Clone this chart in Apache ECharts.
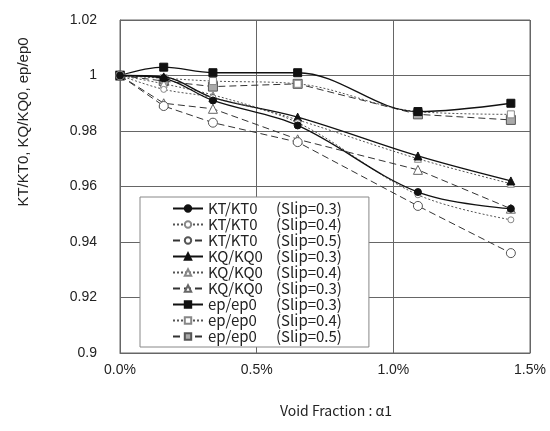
<!DOCTYPE html>
<html>
<head>
<meta charset="utf-8">
<script src="https://cdn.jsdelivr.net/npm/echarts@6/dist/echarts.min.js"></script>
<style>
  html, body { margin: 0; padding: 0; background: #fff; }
  #chart { width: 550px; height: 431px; }
</style>
</head>
<body>
<div id="chart"></div>
<script>
// void fraction (%)
var voidFrac = [0, 0.16, 0.34, 0.65, 1.09, 1.43];

var kt03 = [1, 0.999, 0.991, 0.982, 0.958, 0.952];
var kt04 = [1, 0.995, 0.992, 0.983, 0.957, 0.948];
var kt05 = [1, 0.989, 0.983, 0.976, 0.953, 0.936];
var kq03 = [1, 0.9995, 0.992, 0.985, 0.971, 0.962];
var kq04 = [1, 0.997, 0.993, 0.984, 0.970, 0.961];
var kq05 = [1, 0.990, 0.988, 0.977, 0.966, 0.952];
var ep03 = [1, 1.003, 1.001, 1.001, 0.987, 0.990];
var ep04 = [1, 0.999, 0.998, 0.997, 0.987, 0.986];
var ep05 = [1, 0.998, 0.996, 0.997, 0.986, 0.984];

// legend text as printed (6th entry really says Slip=0.3)
var legendNames = ['KT/KT0', 'KT/KT0', 'KT/KT0', 'KQ/KQ0', 'KQ/KQ0', 'KQ/KQ0', 'ep/ep0', 'ep/ep0', 'ep/ep0'];
var legendSlips = ['(Slip=0.3)', '(Slip=0.4)', '(Slip=0.5)', '(Slip=0.3)', '(Slip=0.4)', '(Slip=0.3)', '(Slip=0.3)', '(Slip=0.4)', '(Slip=0.5)'];
var seriesKeys = ['kt03', 'kt04', 'kt05', 'kq03', 'kq04', 'kq05', 'ep03', 'ep04', 'ep05'];

function pairs(ys) {
    var out = [];
    for (var i = 0; i < ys.length; i++) {
        out.push([voidFrac[i], ys[i]]);
    }
    return out;
}

var solid = { color: '#111', width: 1.3, type: 'solid' };
var dotted = { color: '#555', width: 1, type: [2, 2] };
var dashed = { color: '#333', width: 1, type: [7, 4] };

function mk(idx, ys, line, symbol, size, fill, border, smooth) {
    return {
        name: seriesKeys[idx],
        type: 'line',
        data: pairs(ys),
        smooth: smooth ? 0.35 : false,
        symbol: symbol,
        symbolSize: size,
        lineStyle: line,
        itemStyle: { color: fill, borderColor: border, borderWidth: 1 },
        z: 10 - idx
    };
}

var series = [
    mk(0, kt03, solid, 'circle', 7, '#111', '#111', true),
    mk(1, kt04, dotted, 'circle', 6, '#fff', '#888', true),
    mk(2, kt05, dashed, 'circle', 9, '#fff', '#555', false),
    mk(3, kq03, solid, 'triangle', 8, '#111', '#111', true),
    mk(4, kq04, dotted, 'triangle', 7, '#fff', '#888', true),
    mk(5, kq05, dashed, 'triangle', 9, '#fff', '#666', false),
    mk(6, ep03, solid, 'rect', 8, '#111', '#111', true),
    mk(7, ep04, dotted, 'rect', 7, '#fff', '#888', true),
    mk(8, ep05, dashed, 'rect', 9, '#aaa', '#555', false)
];

var chart = echarts.init(document.getElementById('chart'));
chart.setOption({
    animation: false,
    backgroundColor: '#fff',
    grid: {
        left: 120, right: 20, top: 20, bottom: 78,
        show: true, borderColor: '#666', borderWidth: 1
    },
    xAxis: {
        type: 'value',
        min: 0, max: 1.5, interval: 0.5,
        axisLine: { lineStyle: { color: '#666' } },
        axisTick: { show: false },
        splitLine: { lineStyle: { color: '#666' } },
        axisLabel: {
            color: '#222', fontSize: 14, margin: 10,
            fontFamily: 'Liberation Sans, Arial, sans-serif',
            formatter: function (v) { return v.toFixed(1) + '%'; }
        },
        name: 'Void Fraction : α1',
        nameLocation: 'middle',
        nameGap: 51,
        nameTextStyle: {
            color: '#222', fontSize: 14, padding: [0, 0, 0, 22],
            fontFamily: 'Noto Sans CJK JP, sans-serif'
        }
    },
    yAxis: {
        type: 'value',
        min: 0.9, max: 1.02, interval: 0.02,
        axisLine: { show: true, lineStyle: { color: '#666' } },
        axisTick: { show: false },
        splitLine: { lineStyle: { color: '#666' } },
        axisLabel: {
            color: '#222', fontSize: 14, margin: 23,
            fontFamily: 'Liberation Sans, Arial, sans-serif',
            formatter: function (v) { return String(Math.round(v * 100) / 100); }
        }
    },
    legend: {
        orient: 'vertical',
        left: 140, top: 197,
        padding: [4, 27, 3, 32],
        itemWidth: 30, itemHeight: 8, itemGap: 1,
        backgroundColor: '#fff',
        borderColor: '#888', borderWidth: 1,
        data: seriesKeys,
        formatter: function (name) {
            var i = seriesKeys.indexOf(name);
            return '{a|' + legendNames[i] + '}{b|' + legendSlips[i] + '}';
        },
        textStyle: {
            color: '#222',
            rich: {
                a: { width: 68, fontSize: 15, lineHeight: 15, fontFamily: 'Noto Sans CJK JP, sans-serif', color: '#222' },
                b: { fontSize: 15, lineHeight: 15, fontFamily: 'Noto Sans CJK JP, sans-serif', color: '#222' }
            }
        }
    },
    graphic: [{
        type: 'text',
        x: 24, y: 122,
        rotation: Math.PI / 2,
        style: {
            text: 'KT/KT0, KQ/KQ0, ep/ep0',
            fill: '#222',
            align: 'center',
            verticalAlign: 'middle',
            font: '15px "Liberation Sans", Arial, sans-serif'
        }
    }],
    series: series
});
</script>
</body>
</html>
